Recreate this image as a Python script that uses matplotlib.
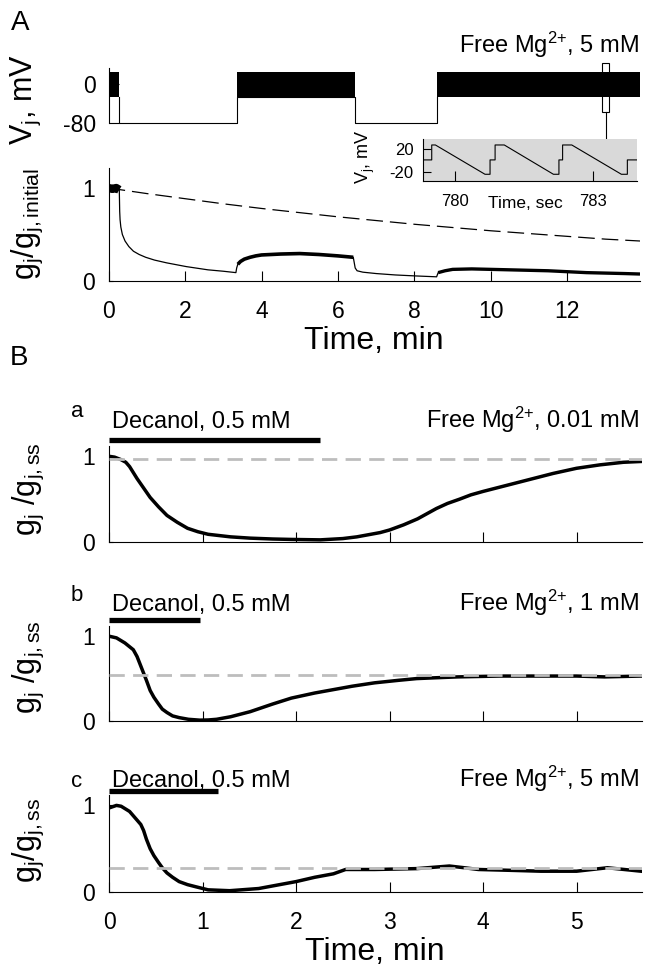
import matplotlib
matplotlib.use("Agg")
import matplotlib.pyplot as plt
from matplotlib.patches import Rectangle
from matplotlib.transforms import blended_transform_factory

plt.rcParams['font.family'] = ['Liberation Sans', 'DejaVu Sans']
plt.rcParams['mathtext.fontset'] = 'custom'
plt.rcParams['mathtext.rm'] = 'Liberation Sans'
plt.rcParams['mathtext.it'] = 'Liberation Sans'
plt.rcParams['mathtext.default'] = 'regular'
plt.rcParams['lines.scale_dashes'] = False
plt.rcParams['axes.unicode_minus'] = False

# ---- panel A, voltage protocol (min, mV)
vj_blocks = [(0, 0.28), (3.35, 6.45), (8.6, 13.9)]
vj_ramp = (-27, 25)
vj_t = [0.28, 0.28, 3.35, 3.35, 6.45, 6.45, 8.6, 8.6]
vj_v = [-27, -80, -80, -27, -27, -80, -80, -27]

# inset, sawtooth (sec, mV)
ins_t = [779.30, 779.49, 779.49, 779.57, 780.65, 780.76, 780.76, 780.87, 780.87,
         781.07, 782.14, 782.26, 782.26, 782.34, 782.34, 782.54, 783.62, 783.75,
         783.75, 783.96]
ins_v = [1, 1, 27, 27, -24, -24, 1, 1, 27, 27, -24, -24, 1, 1, 27, 27, -24, -24, 1, 1]

# ---- panel A, conductance (min, gj/gj,initial)
gA_t = [0, 0.1, 0.2, 0.28, 0.29, 0.30, 0.32, 0.36, 0.43, 0.53, 0.65, 0.8, 0.97,
        1.2, 1.52, 2.03, 2.6, 3.0, 3.33, 3.35, 3.38, 3.45, 3.55, 3.7, 3.85, 4.0,
        4.5, 5.0, 5.5, 6.0, 6.4, 6.45, 6.5, 6.65, 7.0, 7.5, 8.0, 8.58, 8.62, 8.8,
        9.0, 9.5, 10.0, 10.5, 11.0, 11.5, 12.0, 12.5, 13.0, 13.5, 13.9]
gA_v = [1.0, 0.99, 1.0, 0.98, 0.75, 0.66, 0.58, 0.5, 0.43, 0.37, 0.32, 0.285,
        0.255, 0.225, 0.195, 0.155, 0.12, 0.105, 0.09, 0.14, 0.18, 0.21, 0.235,
        0.255, 0.27, 0.28, 0.29, 0.295, 0.285, 0.27, 0.255, 0.14, 0.11, 0.095,
        0.08, 0.065, 0.055, 0.045, 0.09, 0.11, 0.125, 0.13, 0.125, 0.12, 0.115,
        0.11, 0.10, 0.09, 0.085, 0.08, 0.075]
gA_ref_t = [0, 1, 2, 3, 4, 5, 6, 7, 8, 9, 10, 11, 12, 13, 13.9]
gA_ref_v = [1.0, 0.94, 0.885, 0.83, 0.78, 0.735, 0.69, 0.65, 0.61, 0.575, 0.54,
            0.51, 0.48, 0.45, 0.43]

# ---- panel B (min, gj/gj,ss)
Ba_t = [0, 0.06, 0.13, 0.18, 0.22, 0.26, 0.30, 0.37, 0.44, 0.53, 0.62, 0.73, 0.84,
        0.95, 1.06, 1.3, 1.51, 1.75, 1.95, 2.26, 2.5, 2.65, 2.75, 2.9, 3.0, 3.15,
        3.3, 3.4, 3.5, 3.62, 3.75, 3.87, 4.0, 4.25, 4.5, 4.75, 5.0, 5.25, 5.5, 5.7]
Ba_v = [1.0, 0.99, 0.96, 0.93, 0.88, 0.81, 0.74, 0.63, 0.52, 0.41, 0.31, 0.23,
        0.16, 0.12, 0.09, 0.06, 0.045, 0.035, 0.03, 0.025, 0.04, 0.06, 0.08, 0.11,
        0.14, 0.2, 0.27, 0.33, 0.39, 0.45, 0.5, 0.55, 0.59, 0.66, 0.73, 0.8, 0.86,
        0.9, 0.93, 0.94]
Bb_t = [0, 0.08, 0.17, 0.26, 0.30, 0.35, 0.40, 0.44, 0.48, 0.53, 0.57, 0.62, 0.68,
        0.75, 0.85, 0.97, 1.06, 1.15, 1.3, 1.51, 1.75, 1.95, 2.2, 2.4, 2.6, 2.84,
        3.1, 3.29, 3.5, 3.73, 4.18, 4.62, 5.0, 5.3, 5.69]
Bb_v = [1.0, 0.98, 0.92, 0.84, 0.76, 0.62, 0.48, 0.36, 0.28, 0.2, 0.14, 0.1,
        0.06, 0.04, 0.02, 0.01, 0.012, 0.02, 0.05, 0.11, 0.2, 0.27, 0.33, 0.37,
        0.41, 0.45, 0.48, 0.5, 0.51, 0.52, 0.53, 0.53, 0.53, 0.52, 0.53]
Bc_t = [0, 0.08, 0.13, 0.22, 0.30, 0.34, 0.37, 0.40, 0.44, 0.48, 0.53, 0.57, 0.62,
        0.68, 0.75, 0.84, 0.93, 1.06, 1.29, 1.6, 2.0, 2.2, 2.4, 2.53, 2.84, 3.29,
        3.64, 3.8, 3.95, 4.3, 4.62, 5.0, 5.33, 5.69]
Bc_v = [0.97, 1.0, 0.99, 0.93, 0.83, 0.78, 0.71, 0.61, 0.5, 0.42, 0.34, 0.28,
        0.22, 0.17, 0.12, 0.085, 0.06, 0.025, 0.015, 0.04, 0.12, 0.17, 0.21, 0.26,
        0.26, 0.27, 0.3, 0.28, 0.26, 0.25, 0.24, 0.24, 0.28, 0.24]
B_ss = [0.97, 0.54, 0.28]
B_decanol_end = [2.26, 0.97, 1.17]
B_mg = ['0.01', '1', '5']
B_letters = ['a', 'b', 'c']

W, H = 649, 976
fig = plt.figure(figsize=(W / 100, H / 100), dpi=100)


def box(l, t, r, b):
    return [l / W, 1 - b / H, (r - l) / W, (b - t) / H]


def ftext(x, y, s, **kw):
    fig.text(x / W, 1 - y / H, s, **kw)


def clean(ax, keep=('left', 'bottom')):
    for side in ['left', 'right', 'top', 'bottom']:
        ax.spines[side].set_visible(side in keep)
        ax.spines[side].set_linewidth(0.8)


TICK = 16.5
LAB = 22
MG = r'Free Mg$^{2{+}}$, '

# ---------------- A: Vj
ax_v = fig.add_axes(box(108.6, 68, 640, 123))
ax_v.set_xlim(0, 13.9)
ax_v.set_ylim(-80, 33)
for s, e in vj_blocks:
    ax_v.fill_between([s, e], vj_ramp[0], vj_ramp[1], color='k', lw=0)
ax_v.plot(vj_t, vj_v, color='k', lw=0.8, clip_on=False)
ax_v.add_patch(Rectangle((12.9, -57), 0.2, 100, fill=False, ec='k', lw=0.8,
                         clip_on=False, zorder=4))
tr = blended_transform_factory(ax_v.transData, fig.transFigure)
ax_v.plot([13.0, 13.0], [1 - 112 / H, 1 - 139 / H], transform=tr, color='k',
          lw=0.8, clip_on=False)
clean(ax_v, keep=('left',))
ax_v.set_xticks([])
ax_v.set_yticks([0, -80])
ax_v.tick_params(axis='y', direction='in', length=7, width=0.8, pad=9,
                 labelsize=TICK)

# ---------------- A: gj
ax_g = fig.add_axes(box(108.6, 168, 640, 281))
ax_g.set_xlim(0, 13.9)
ax_g.set_ylim(0, 1.215)
ax_g.plot(gA_ref_t, gA_ref_v, color='k', lw=0.9, dashes=(12, 5))
ax_g.plot(gA_t, gA_v, color='k', lw=0.9)
for s, e, w in [(0, 0.28, 6), (3.36, 6.4, 2.6), (8.62, 13.9, 2.4)]:
    seg = [(t, v) for t, v in zip(gA_t, gA_v) if s <= t <= e]
    ax_g.plot([p[0] for p in seg], [p[1] for p in seg], color='k', lw=w,
              solid_capstyle='butt')
clean(ax_g)
ax_g.set_xticks(range(0, 13, 2))
ax_g.set_yticks([0, 1])
ax_g.tick_params(axis='x', direction='in', length=7, width=0.8, pad=14,
                 labelsize=TICK)
ax_g.tick_params(axis='y', direction='in', length=3, width=0.8, pad=10,
                 labelsize=TICK)

# ---------------- A: inset
ax_i = fig.add_axes(box(423, 139, 637, 181), facecolor='#d9d9d9')
ax_i.set_xlim(779.3, 783.96)
ax_i.set_ylim(-35.7, 37.4)
ax_i.plot(ins_t, ins_v, color='k', lw=0.8)
clean(ax_i)
ax_i.set_xticks([780, 783])
ax_i.set_yticks([20, -20])
ax_i.tick_params(axis='x', direction='in', length=7, width=0.8, pad=9,
                 labelsize=12)
ax_i.tick_params(axis='y', direction='in', length=6, width=0.8, pad=7,
                 labelsize=12)

ftext(20, 23, 'A', fontsize=20, ha='center', va='center')
ftext(639, 53, MG + '5 mM', fontsize=17, ha='right', va='baseline')
ftext(26, 100, r'V$_j$, mV', fontsize=LAB, rotation=90, ha='center', va='center')
ftext(27, 224, r'g$_j$/g$_{j,initial}$', fontsize=LAB, rotation=90,
      ha='center', va='center')
ftext(374, 341, 'Time, min', fontsize=23, ha='center', va='center')
ftext(525, 203, 'Time, sec', fontsize=12.5, ha='center', va='center')
ftext(365, 157, r'V$_j$, mV', fontsize=13, rotation=90, ha='center', va='center')

# ---------------- B
ftext(19, 358, 'B', fontsize=20, ha='center', va='center')
B_t = [Ba_t, Bb_t, Bc_t]
B_v = [Ba_v, Bb_v, Bc_v]
B_box = [(446, 542), (626, 721), (795, 892)]
B_base = [428, 611, 787]
B_letter_base = [417, 601, 787]
B_bar = [440, 620, 791]
B_ylab = [489, 667, 840]
B_ylab_txt = [r'g$_j$ /g$_{j,ss}$', r'g$_j$ /g$_{j,ss}$', r'g$_j$/g$_{j,ss}$']

for i in range(3):
    top, bot = B_box[i]
    ax = fig.add_axes(box(109, top, 642, bot))
    ax.set_xlim(0, 5.7)
    ax.set_ylim(0, 1.12)
    ax.plot(B_t[i], B_v[i], color='k', lw=2.5)
    ax.axhline(B_ss[i], color='#bdbdbd', lw=2, dashes=(11, 6), zorder=3)
    trb = blended_transform_factory(ax.transData, fig.transFigure)
    ax.plot([0, B_decanol_end[i]], [1 - B_bar[i] / H] * 2, transform=trb,
            color='k', lw=3.8, clip_on=False, solid_capstyle='butt')
    clean(ax)
    ax.set_xticks(range(0, 6))
    ax.set_yticks([0, 1])
    ax.tick_params(axis='x', direction='in', length=7, width=0.8, pad=14,
                   labelsize=TICK, labelbottom=(i == 2))
    ax.tick_params(axis='y', direction='in', length=3, width=0.8, pad=10,
                   labelsize=TICK)
    ftext(77, B_letter_base[i], B_letters[i], fontsize=16, ha='center',
          va='baseline')
    ftext(112, B_base[i], 'Decanol, 0.5 mM', fontsize=17, ha='left',
          va='baseline')
    ftext(639, B_base[i], MG + B_mg[i] + ' mM', fontsize=17,
          ha='right', va='baseline')
    ftext(28, B_ylab[i], B_ylab_txt[i], fontsize=LAB, rotation=90,
          ha='center', va='center')

ftext(375, 952, 'Time, min', fontsize=23, ha='center', va='center')

fig.savefig('out.png', dpi=100)
